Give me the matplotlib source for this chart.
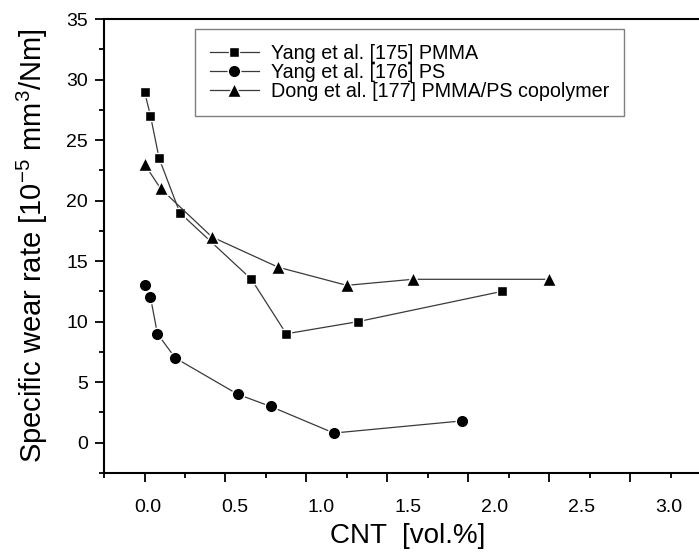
import matplotlib.pyplot as plt
from matplotlib.ticker import MultipleLocator

plt.rcParams['font.family'] = ['Liberation Sans', 'DejaVu Sans']
plt.rcParams['mathtext.fontset'] = 'custom'
plt.rcParams['mathtext.rm'] = 'Liberation Sans'
plt.rcParams['mathtext.default'] = 'rm'

# wear rate vs CNT content
pmma_label = 'Yang et al. [175] PMMA'
pmma_cnt = [0.0, 0.037, 0.09, 0.218, 0.66, 0.875, 1.317, 2.206]
pmma_wear = [29.0, 27.0, 23.5, 19.0, 13.5, 9.0, 10.0, 12.5]

ps_label = 'Yang et al. [176] PS'
ps_cnt = [0.0, 0.037, 0.08, 0.19, 0.576, 0.778, 1.169, 1.957]
ps_wear = [13.0, 12.0, 9.0, 7.0, 4.0, 3.0, 0.8, 1.8]

dong_label = 'Dong et al. [177] PMMA/PS copolymer'
dong_cnt = [0.0, 0.099, 0.416, 0.825, 1.249, 1.656, 2.496]
dong_wear = [23.0, 21.0, 17.0, 14.5, 13.0, 13.5, 13.5]

xtick_vals = [0.0, 0.5, 1.0, 1.5, 2.0, 2.5, 3.0]
xtick_labels = ['0.0', '0.5', '1.0', '1.5', '2.0', '2.5', '3.0']

fig = plt.figure(figsize=(6.99, 5.54), dpi=100)
ax = fig.add_axes([0.1488, 0.1462, 0.869, 0.8195])

line_kw = dict(color='#3a3a3a', lw=0.9, mfc='black', mec='white', mew=1.0)
ax.plot(pmma_cnt, pmma_wear, marker='s', ms=7.5, label=pmma_label, **line_kw)
ax.plot(ps_cnt, ps_wear, marker='o', ms=9, label=ps_label, **line_kw)
ax.plot(dong_cnt, dong_wear, marker='^', ms=10.5, label=dong_label, **line_kw)

ax.set_xlim(-0.25, 3.5)
ax.set_ylim(-2.5, 35)

for side in ['left', 'bottom', 'top']:
    ax.spines[side].set_linewidth(1.5)
ax.spines['right'].set_visible(False)

ax.yaxis.set_major_locator(MultipleLocator(5))
ax.yaxis.set_minor_locator(MultipleLocator(2.5))
ax.xaxis.set_major_locator(MultipleLocator(0.5))
ax.xaxis.set_minor_locator(MultipleLocator(0.25))
ax.tick_params(which='both', direction='out', width=1.3, top=False, right=False)
ax.tick_params(which='major', length=6.5)
ax.tick_params(which='minor', length=3.5)
ax.tick_params(axis='y', labelsize=14, pad=5)
ax.tick_params(axis='x', labelbottom=False)

# the value labels on the x axis are spread a little wider than the ticks
sec = ax.secondary_xaxis('bottom', functions=(lambda x: (x - 0.02) / 1.072,
                                              lambda v: v * 1.072 + 0.02))
sec.spines['bottom'].set_visible(False)
sec.set_xticks(xtick_vals, labels=xtick_labels)
sec.xaxis.set_minor_locator(MultipleLocator(10))
sec.tick_params(which='both', length=0, labelsize=14, pad=19)
sec.set_xlabel('CNT  [vol.%]', fontsize=20, labelpad=5)

ax.set_ylabel('Specific wear rate [10$^{-5}$ mm$^{3}$/Nm]', fontsize=21, labelpad=12)

leg = ax.legend(loc='upper left', bbox_to_anchor=(195 / 699, 1 - 29 / 554),
                bbox_transform=fig.transFigure, borderaxespad=0, fontsize=14.2,
                fancybox=False, edgecolor='#7f7f7f', framealpha=1,
                handlelength=2.5, handletextpad=0.6, borderpad=0.75,
                labelspacing=0.0)
leg.get_frame().set_linewidth(1.0)

fig.savefig('out.png', dpi=100)
